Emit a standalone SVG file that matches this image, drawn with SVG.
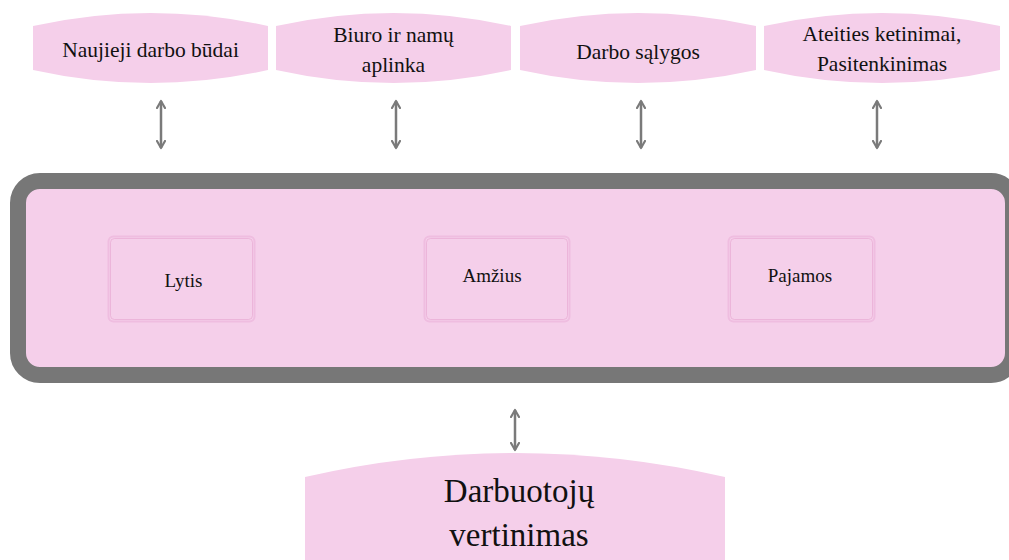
<svg xmlns="http://www.w3.org/2000/svg" width="1009" height="560" viewBox="0 0 1009 560">
<defs>
<style>
.shape{fill:#f5cfea;stroke:none}
text{font-family:'Liberation Serif','Times New Roman',serif;fill:#111;text-anchor:middle}
.top{font-size:21.5px}
.in{font-size:19px}
.big{font-size:33px}
.box{fill:none;stroke:#efbde0;stroke-width:2}
.box2{fill:none;stroke:#e8a9d3;stroke-width:0.7}
.arr{stroke:#7a7a7a;stroke-width:2.5;fill:none;marker-start:url(#ah);marker-end:url(#ah)}
</style>
<marker id="ah" viewBox="0 0 10 10" refX="8" refY="5" markerWidth="4" markerHeight="4" orient="auto-start-reverse" markerUnits="strokeWidth">
<path d="M1,1 L8,5 L1,9" fill="none" stroke="#7a7a7a" stroke-width="2.2" stroke-linecap="round" stroke-linejoin="round"/>
</marker>
</defs>
<rect width="1009" height="560" fill="#ffffff"/>
<g id="n1">
<path class="shape" d="M33,26 Q150.5,0 268,26 L268,70 Q150.5,96 33,70 Z"/>
<text class="top" x="150.5" y="57">Naujieji darbo būdai</text>
</g>
<g id="n2">
<path class="shape" d="M276,26 Q393.5,0 511,26 L511,70 Q393.5,96 276,70 Z"/>
<text class="top" x="393.5" y="42">Biuro ir namų</text>
<text class="top" x="393.5" y="72">aplinka</text>
</g>
<g id="n3">
<path class="shape" d="M520,26 Q638,0 756,26 L756,70 Q638,96 520,70 Z"/>
<text class="top" x="638" y="59">Darbo sąlygos</text>
</g>
<g id="n4">
<path class="shape" d="M764,26 Q882,0 1000,26 L1000,70 Q882,96 764,70 Z"/>
<text class="top" x="882" y="41">Ateities ketinimai,</text>
<text class="top" x="882" y="71">Pasitenkinimas</text>
</g>
<g id="container">
<rect x="18" y="181" width="995" height="194" rx="22" ry="22" fill="#f5cfea" stroke="#777777" stroke-width="16"/>
</g>
<g id="lytis">
<rect class="box" x="108.5" y="236.5" width="146" height="85" rx="5"/>
<rect class="box2" x="110.5" y="238.5" width="142" height="81" rx="4"/>
<text class="in" x="183.5" y="287">Lytis</text>
</g>
<g id="amzius">
<rect class="box" x="424.5" y="236.5" width="145" height="85" rx="5"/>
<rect class="box2" x="426.5" y="238.5" width="141" height="81" rx="4"/>
<text class="in" x="492" y="282">Amžius</text>
</g>
<g id="pajamos">
<rect class="box" x="728.5" y="236.5" width="146" height="85" rx="5"/>
<rect class="box2" x="730.5" y="238.5" width="142" height="81" rx="4"/>
<text class="in" x="800" y="282">Pajamos</text>
</g>
<g id="vertinimas">
<path class="shape" d="M305,477 Q515,429 725,477 L725,560 L305,560 Z"/>
<text class="big" x="519" y="502">Darbuotojų</text>
<text class="big" x="519" y="546">vertinimas</text>
</g>
<g id="connectors">
<line class="arr" x1="161" y1="101" x2="161" y2="148"/>
<line class="arr" x1="396" y1="101" x2="396" y2="148"/>
<line class="arr" x1="641" y1="101" x2="641" y2="148"/>
<line class="arr" x1="877" y1="101" x2="877" y2="148"/>
<line class="arr" x1="515" y1="410" x2="515" y2="450"/>
</g>
</svg>
